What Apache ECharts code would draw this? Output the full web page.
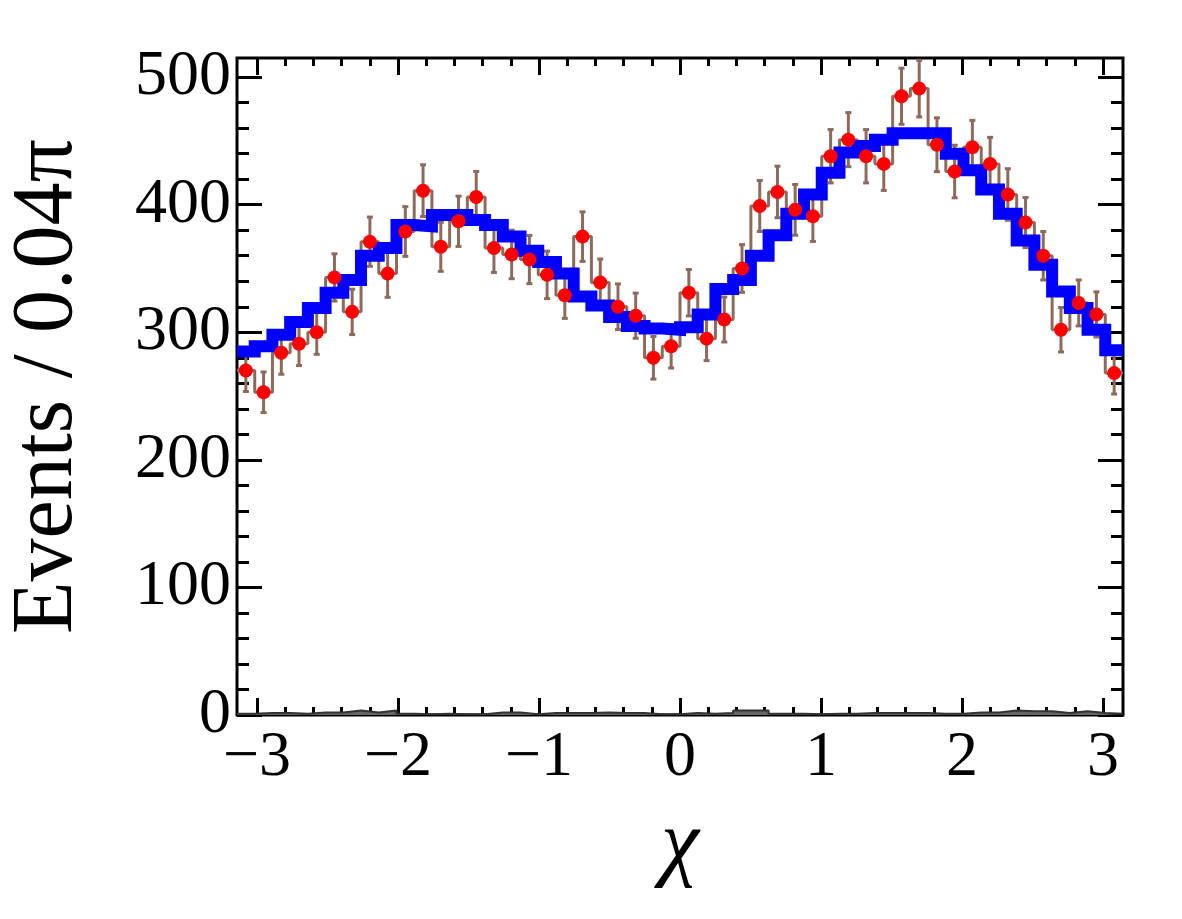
<!DOCTYPE html>
<html>
<head>
<meta charset="utf-8">
<script src="https://cdn.jsdelivr.net/npm/echarts@6/dist/echarts.min.js"></script>
<style>
html, body { margin: 0; padding: 0; background: #fff; }
#chart { width: 1182px; height: 919px; }
</style>
</head>
<body>
<div id="chart"></div>
<script>
// binning: 50 bins of 0.04*pi over [-pi, pi]
var nBins = 50;
var binWidth = 0.04 * Math.PI;
var xMin = -Math.PI, xMax = Math.PI;
var yMin = 0, yMax = 515;

// tick labels
var xTickLabels = [-3, -2, -1, 0, 1, 2, 3];
var yTickLabels = [0, 100, 200, 300, 400, 500];

// data (red points)
var dataCounts = [270, 253, 284, 291, 300, 343, 316, 371, 346, 379,
                  411, 367, 387, 406, 366, 361, 357, 345, 329, 375,
                  339, 320, 313, 280, 289, 331, 295, 310, 350, 399,
                  410, 396, 391, 438, 451, 438, 432, 485, 491, 447,
                  426, 445, 432, 408, 386, 360, 302, 323, 314, 268];
var dataErrors = [16.4, 15.9, 16.9, 17.1, 17.3, 18.5, 17.8, 19.3, 18.6, 19.5,
                  20.3, 19.2, 19.7, 20.1, 19.1, 19.0, 18.9, 18.6, 18.1, 19.4,
                  18.4, 17.9, 17.7, 16.7, 17.0, 18.2, 17.2, 17.6, 18.7, 20.0,
                  20.2, 19.9, 19.8, 20.9, 21.2, 20.9, 20.8, 22.0, 22.2, 21.1,
                  20.6, 21.1, 20.8, 20.2, 19.6, 19.0, 17.4, 18.0, 17.7, 16.4];
// fit (blue)
var fitCounts = [285, 289, 298, 308, 319, 331, 341, 360, 366, 384,
                 383, 392, 392, 388, 384, 375, 364, 355, 346, 328,
                 321, 312, 305, 303, 302, 304, 314, 334, 341, 360,
                 376, 393, 408, 425, 441, 446, 451, 456, 456, 456,
                 440, 427, 412, 393, 372, 353, 332, 319, 302, 286];
// background (grey)
var bkgCounts = [1, 1.5, 1.5, 1, 2, 2, 3.5, 2, 3.5, 1,
                 0.5, 1, 0.5, 0.5, 2, 2, 0.5, 1.5, 1.5, 1.5,
                 2, 1.5, 1.5, 0.5, 0.5, 1.5, 1, 1.5, 3.5, 3.5,
                 1, 1, 0.5, 1, 1, 1.5, 1.5, 1.5, 1.5, 1,
                 1, 2, 2, 3.5, 3, 3, 1.5, 3, 1.5, 1];

var xMinorTicks = [];
for (var t = -30; t <= 30; t += 2) xMinorTicks.push(t / 10);
var yMinorTicks = [];
for (var u = 0; u <= 500; u += 20) yMinorTicks.push(u);

function stepData(arr) {
    var out = [];
    for (var i = 0; i < arr.length; i++) out.push([xMin + i * binWidth, arr[i]]);
    out.push([xMax, arr[arr.length - 1]]);
    return out;
}

var centers = dataCounts.map(function (v, i) { return [xMin + (i + 0.5) * binWidth, v, dataErrors[i]]; });

var font = 'Liberation Serif';
var tickStyle = { color: '#000', width: 3 };

function xAxis(pos, ticks, len, labels) {
    return {
        type: 'value', position: pos, min: xMin, max: xMax,
        axisLine: { show: false, onZero: false },
        splitLine: { show: false },
        axisTick: { show: true, inside: true, length: len, customValues: ticks, lineStyle: tickStyle },
        axisLabel: labels ? {
            show: true, customValues: ticks, margin: 11,
            fontFamily: font, fontSize: 64, color: '#000',
            formatter: function (v) { return String(Math.round(v)).replace('-', '\u2212'); }
        } : { show: false },
        name: labels ? '\u03c7' : '',
        nameLocation: 'middle', nameGap: 88,
        nameTextStyle: { fontFamily: font, fontSize: 86, fontStyle: 'italic', color: '#000' }
    };
}

function yAxis(pos, ticks, len, labels) {
    return {
        type: 'value', position: pos, min: yMin, max: yMax,
        axisLine: { show: false, onZero: false },
        splitLine: { show: false },
        axisTick: { show: true, inside: true, length: len, customValues: ticks, lineStyle: tickStyle },
        axisLabel: labels ? {
            show: true, customValues: ticks, margin: 6,
            fontFamily: font, fontSize: 64, color: '#000'
        } : { show: false },
        name: labels ? 'Events / 0.04\u03c0' : '',
        nameLocation: 'middle', nameGap: 146, nameRotate: 90,
        nameTextStyle: { fontFamily: font, fontSize: 86, color: '#000' }
    };
}

var chart = echarts.init(document.getElementById('chart'));

var option = {
    animation: false,
    backgroundColor: '#fff',
    grid: {
        left: 237, right: 59, top: 58, bottom: 204,
        show: true, borderColor: '#000', borderWidth: 3,
        outerBoundsMode: 'none'
    },
    xAxis: [
        xAxis('bottom', xTickLabels, 17, true),
        xAxis('bottom', xMinorTicks, 8, false),
        xAxis('top', xTickLabels, 17, false),
        xAxis('top', xMinorTicks, 8, false)
    ],
    yAxis: [
        yAxis('left', yTickLabels, 25, true),
        yAxis('left', yMinorTicks, 12, false),
        yAxis('right', yTickLabels, 25, false),
        yAxis('right', yMinorTicks, 12, false)
    ],
    series: [
        {
            name: 'background', type: 'line', step: 'end',
            data: stepData(bkgCounts), symbol: 'none',
            lineStyle: { color: '#333', width: 2 },
            areaStyle: { color: '#666', opacity: 1 },
            z: 2
        },
        {
            name: 'data step', type: 'line', step: 'end',
            data: stepData(dataCounts), symbol: 'none',
            lineStyle: { color: '#8c6b5c', width: 3 },
            z: 3
        },
        {
            name: 'errors', type: 'custom',
            data: centers,
            renderItem: function (params, api) {
                var x = api.value(0), v = api.value(1), e = api.value(2);
                var top = api.coord([x, v + e]);
                var bot = api.coord([x, v - e]);
                var st = { stroke: '#8c6b5c', lineWidth: 3 };
                return {
                    type: 'group',
                    children: [
                        { type: 'line', shape: { x1: top[0], y1: top[1], x2: bot[0], y2: bot[1] }, style: st },
                        { type: 'line', shape: { x1: top[0] - 3, y1: top[1], x2: top[0] + 3, y2: top[1] }, style: st },
                        { type: 'line', shape: { x1: bot[0] - 3, y1: bot[1], x2: bot[0] + 3, y2: bot[1] }, style: st }
                    ]
                };
            },
            z: 4
        },
        {
            name: 'fit', type: 'line', step: 'end',
            data: stepData(fitCounts), symbol: 'none',
            lineStyle: { color: '#0000ff', width: 12, join: 'miter', cap: 'butt' },
            z: 5
        },
        {
            name: 'data', type: 'scatter',
            data: centers.map(function (c) { return [c[0], c[1]]; }),
            symbol: 'circle', symbolSize: 14,
            itemStyle: { color: '#ff0000', opacity: 1 },
            z: 6
        }
    ]
};

chart.setOption(option);
</script>
</body>
</html>
